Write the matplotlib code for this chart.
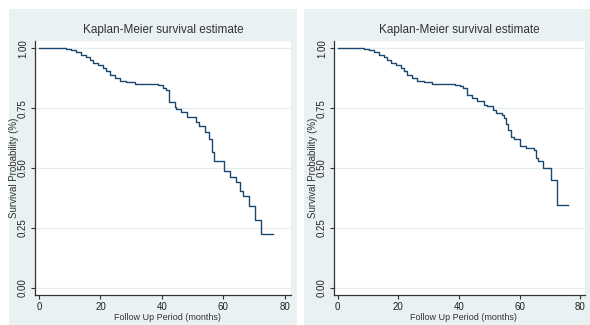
import matplotlib
matplotlib.use("Agg")
import matplotlib.pyplot as plt
from matplotlib.patches import Rectangle

# Left panel KM step data (time in months, survival)
left_time = [0, 8.9, 10.5, 12.2, 13.8, 15.4, 16.5, 17.6, 19.2, 20.8, 21.9, 23.0, 24.6,
             26.3, 28.4, 31.1, 38.8, 40.5, 41.2, 42.3, 44.2, 44.7, 46.2, 48.2, 51.2,
             52.1, 53.9, 55.3, 56.4, 57.1, 60.1, 62.0, 64.2, 65.3, 66.4, 68.4, 70.4,
             72.4, 76.2]
left_surv = [1.0, 0.997, 0.993, 0.983, 0.972, 0.962, 0.949, 0.9375, 0.928, 0.917, 0.903,
             0.889, 0.875, 0.865, 0.857, 0.851, 0.847, 0.833, 0.824, 0.775, 0.753, 0.747,
             0.736, 0.7125, 0.692, 0.676, 0.649, 0.621, 0.569, 0.528, 0.486, 0.4625,
             0.444, 0.403, 0.385, 0.343, 0.285, 0.226, 0.226]

# Right panel KM step data
right_time = [0, 8.7, 10.2, 11.9, 13.6, 15.3, 16.4, 17.5, 19.1, 20.8, 21.9, 23.0, 24.6,
              26.3, 28.5, 31.2, 38.8, 40.4, 41.5, 42.6, 44.2, 46.1, 48.3, 49.2, 51.2,
              52.3, 54.1, 55.0, 55.6, 56.3, 57.1, 58.2, 60.2, 62.2, 64.8, 65.5, 66.2,
              67.9, 70.3, 72.3, 76.1]
right_surv = [1.0, 0.997, 0.993, 0.983, 0.972, 0.962, 0.949, 0.9375, 0.928, 0.917, 0.903,
              0.889, 0.875, 0.865, 0.857, 0.851, 0.847, 0.843, 0.833, 0.806, 0.792,
              0.778, 0.764, 0.757, 0.743, 0.729, 0.722, 0.708, 0.685, 0.657, 0.629,
              0.621, 0.593, 0.583, 0.576, 0.542, 0.531, 0.5, 0.451, 0.347, 0.347]

x_ticks = [0, 20, 40, 60, 80]
y_ticks = [0.0, 0.25, 0.5, 0.75, 1.0]
y_tick_labels = ["0.00", "0.25", "0.50", "0.75", "1.00"]
title_text = "Kaplan-Meier survival estimate"
xlabel_text = "Follow Up Period (months)"
ylabel_text = "Survival Probability (%)"

FONT = ["Liberation Sans Narrow", "Liberation Sans", "DejaVu Sans"]
plt.rcParams["font.family"] = FONT

W, H = 590, 325
fig = plt.figure(figsize=(W / 100, H / 100), dpi=100)
fig.patch.set_facecolor("white")

BG = "#eaf1f3"
LINE = "#1a476f"
GRID = "#e3ecef"


def px_rect(x0, y0, x1, y1):
    return [x0 / W, 1 - y1 / H, (x1 - x0) / W, (y1 - y0) / H]


panels = [
    dict(bg=(9, 9, 297, 325), ax=(35, 41, 291, 295), x=left_time, y=left_surv,
         xlim=(-1.3, 82.0), ylabx=14),
    dict(bg=(304, 9, 590, 325), ax=(334, 41, 585, 295), x=right_time, y=right_surv,
         xlim=(-1.2, 81.6), ylabx=313),
]

for p in panels:
    bx0, by0, bx1, by1 = p["bg"]
    fig.patches.append(Rectangle((bx0 / W, 1 - by1 / H), (bx1 - bx0) / W, (by1 - by0) / H,
                                 transform=fig.transFigure, facecolor=BG,
                                 edgecolor="none", zorder=-5))
    ax = fig.add_axes(px_rect(*p["ax"]))
    ax.set_zorder(2)
    ax.set_facecolor("white")
    ax.step(p["x"], p["y"], where="post", color=LINE, lw=1.0, zorder=3)
    ax.set_xlim(*p["xlim"])
    ax.set_ylim(-0.029, 1.03)
    ax.set_xticks(x_ticks)
    ax.set_xticklabels([str(t) for t in x_ticks], fontsize=7, color="#222222")
    ax.set_yticks(y_ticks)
    ax.set_yticklabels(y_tick_labels, fontsize=7, color="#222222", rotation=90,
                       va="center")
    for yt in y_ticks:
        ax.axhline(yt, color=GRID, lw=0.8, zorder=1)
    for side in ("top", "right"):
        ax.spines[side].set_visible(False)
    for side in ("left", "bottom"):
        ax.spines[side].set_color("#333333")
        ax.spines[side].set_linewidth(0.9)
    ax.tick_params(axis="both", direction="out", length=3, width=0.8, color="#333333",
                   pad=2)
    ax.set_title(title_text, fontsize=8.5, color="#333333", pad=6)
    ax0, ay0, ax1, ay1 = p["ax"]
    fig.text(((ax0 + ax1) / 2 + 4) / W, 1 - 318 / H, xlabel_text, fontsize=6.5,
             color="#333333", ha="center", va="center", zorder=3)
    fig.text(p["ylabx"] / W, 1 - 168 / H, ylabel_text, fontsize=7, color="#333333",
             ha="center", va="center", rotation=90, zorder=3)

fig.savefig("out.png", dpi=100, facecolor="white")
